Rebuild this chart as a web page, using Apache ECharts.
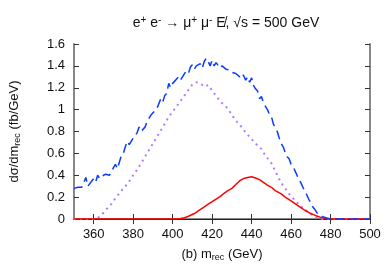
<!DOCTYPE html>
<html><head><meta charset="utf-8">
<script src="https://cdn.jsdelivr.net/npm/echarts@6/dist/echarts.min.js"></script>
<style>html,body{margin:0;padding:0;background:#fff}#c{width:390px;height:271px}</style>
</head><body><div id="c"></div>
<script>
var xTicks = [360, 380, 400, 420, 440, 460, 480, 500];
var yTicks = [0, 0.2, 0.4, 0.6, 0.8, 1, 1.2, 1.4, 1.6];

var blueX = [350,352,354,355,356,357,358,360,361,362,363,364,366,368,370,371,372,374,375,376,377,378,380,381,382,383,384,386,387,388,389,390,392,393,394,395,396,397,398,399,400,402,403,404,406,407,408,409,410,411,412,414,415,416,417,418,419,420,421,422,423,424,425,426,427,428,429,430,432,433,434,435,436,437,438,439,440,441,442,443,444,445,446,447,448,449,450,451,452,453,454,455,456,457,458,459,460,461,462,463,464,465,466,467,468,469,470,471,472,473,474,475,476,478,480,485,490,495,500];
var blueY = [0.28,0.29,0.29,0.29,0.38,0.30,0.29,0.37,0.34,0.40,0.37,0.39,0.41,0.40,0.47,0.50,0.46,0.58,0.60,0.66,0.71,0.68,0.74,0.76,0.79,0.84,0.80,0.84,0.89,0.89,0.95,0.94,1.01,1.02,1.10,1.07,1.13,1.15,1.24,1.20,1.24,1.28,1.30,1.27,1.33,1.35,1.33,1.39,1.41,1.37,1.40,1.42,1.38,1.44,1.47,1.44,1.40,1.45,1.40,1.43,1.42,1.38,1.40,1.39,1.37,1.38,1.36,1.34,1.33,1.32,1.30,1.33,1.31,1.27,1.30,1.25,1.29,1.22,1.19,1.17,1.10,1.12,1.06,1.03,1.00,0.96,0.94,0.87,0.86,0.80,0.74,0.69,0.66,0.61,0.57,0.55,0.50,0.48,0.44,0.40,0.36,0.33,0.29,0.25,0.22,0.18,0.15,0.11,0.09,0.06,0.04,0.03,0.02,0.01,0,0,0,0,0];

var purpleX = [350,360,362,364,366,369,371,373,375,377.5,380,382,384,386,388,390,392,394,396,398,400,402,404,406,408,410,411,412,414,416,418,419,421,423,425,428,430,432,435,437,440,442,445,447,450,452,453,455,457,459,461,463,466,468,470,472,474,476,500];
var purpleY = [0,0,0.01,0.037,0.08,0.14,0.19,0.235,0.28,0.33,0.40,0.45,0.51,0.57,0.63,0.69,0.75,0.81,0.87,0.935,0.98,1.03,1.08,1.13,1.18,1.23,1.245,1.25,1.24,1.21,1.225,1.21,1.15,1.10,1.06,1.01,0.95,0.90,0.84,0.79,0.73,0.69,0.64,0.58,0.51,0.44,0.40,0.33,0.28,0.23,0.19,0.15,0.10,0.07,0.045,0.02,0.005,0,0];

var redX = [350,402,404,406,408,411,413,416,418,421,424,426,428,430,432,434,436,438,440,442,444,446,448,450,452,455,457,460,462,465,467,470,472,475,477,480,500];
var redY = [0,0,0.004,0.012,0.025,0.05,0.075,0.11,0.135,0.17,0.205,0.235,0.26,0.28,0.315,0.35,0.37,0.38,0.387,0.375,0.36,0.335,0.31,0.29,0.26,0.23,0.20,0.165,0.14,0.105,0.08,0.05,0.035,0.015,0.005,0,0];

function pairs(xs, ys){ return xs.map(function(x,i){ return [x, ys[i]]; }); }

var FONT = 'Liberation Sans';
var chart = echarts.init(document.getElementById('c'), null, {renderer:'canvas'});
var axisGray = '#888';
var tickStyle = {show:true, inside:true, length:5, lineStyle:{color:'#333', width:1}};
chart.setOption({
  animation:false,
  title:{
    text:'{a|e}{s|+}{a| e}{s|-}{a| \u2192 \u03bc}{s|+}{a| \u03bc}{s|-}{a| E\u0338, \u221as = 500 GeV}',
    left:221, top:10, textAlign:'center',
    textStyle:{fontWeight:'normal', rich:{
      a:{fontFamily:FONT, fontSize:14, fontWeight:'normal', color:'#111'},
      s:{fontFamily:FONT, fontSize:10, fontWeight:'normal', color:'#111', padding:[0,0,7,0]}
    }}
  },
  grid:{left:72, right:20, top:44, bottom:52},
  xAxis:[{
    type:'value', min:350, max:500, position:'bottom',
    axisLine:{show:true, lineStyle:{color:axisGray, width:2}},
    axisTick:Object.assign({customValues:xTicks}, tickStyle),
    axisLabel:{customValues:xTicks, fontFamily:FONT, fontSize:13, color:'#111', margin:9},
    splitLine:{show:false},
    name:'{a|(b) m}{b|rec}{a| (GeV)}', nameLocation:'middle', nameGap:28,
    nameTextStyle:{rich:{
      a:{fontFamily:FONT, fontSize:13, color:'#111'},
      b:{fontFamily:FONT, fontSize:9, color:'#111', padding:[6,0,0,0]}
    }}
  },{
    type:'value', min:350, max:500, position:'top',
    axisLine:{show:true, lineStyle:{color:'#222', width:1}},
    axisTick:Object.assign({customValues:xTicks}, tickStyle),
    axisLabel:{show:false}, splitLine:{show:false}
  }],
  yAxis:[{
    type:'value', min:0, max:1.6, interval:0.2, position:'left',
    axisLine:{show:true, lineStyle:{color:axisGray, width:2}},
    axisTick:tickStyle,
    axisLabel:{fontFamily:FONT, fontSize:13, color:'#111', margin:9,
      formatter:function(v){ return String(Math.round(v*10)/10); }},
    splitLine:{show:false},
    name:'{a|d\u03c3/dm}{b|rec}{a| (fb/GeV)}', nameLocation:'middle', nameGap:52, nameRotate:90,
    nameTextStyle:{rich:{
      a:{fontFamily:FONT, fontSize:13, color:'#111'},
      b:{fontFamily:FONT, fontSize:9, color:'#111', padding:[6,0,0,0]}
    }}
  },{
    type:'value', min:0, max:1.6, interval:0.2, position:'right',
    axisLine:{show:true, lineStyle:{color:axisGray, width:2}},
    axisTick:tickStyle, axisLabel:{show:false}, splitLine:{show:false}
  }],
  series:[{
    type:'line', data:pairs(purpleX, purpleY), showSymbol:false, symbol:'none',
    lineStyle:{color:'#b07cff', width:2, type:[2,4]}, z:3
  },{
    type:'line', data:pairs(redX, redY), showSymbol:false, symbol:'none',
    lineStyle:{color:'#ff0000', width:1.5}, z:4
  },{
    type:'line', data:pairs(blueX, blueY), showSymbol:false, symbol:'none',
    lineStyle:{color:'#0a3cff', width:1.5, type:[9,5]}, z:5
  }]
});
</script></body></html>
